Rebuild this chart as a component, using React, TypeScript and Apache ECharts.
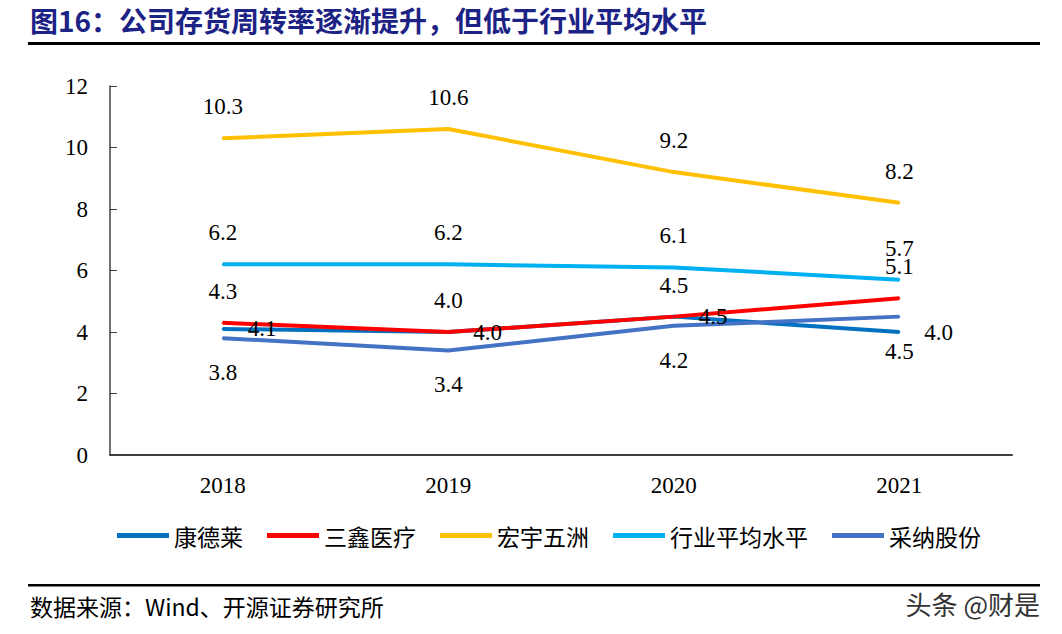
import React, { useEffect, useRef } from "react";
import * as echarts from "echarts";

const years = ["2018", "2019", "2020", "2021"];
const kangdelai = [4.1, 4.0, 4.5, 4.0];
const sanxin = [4.3, 4.0, 4.5, 5.1];
const hongyu = [10.3, 10.6, 9.2, 8.2];
const industry = [6.2, 6.2, 6.1, 5.7];
const caina = [3.8, 3.4, 4.2, 4.5];
const yTicks = [0, 2, 4, 6, 8, 10, 12];

const SERIF = "'Liberation Serif', 'Times New Roman', serif";
const CJK = "'Noto Sans CJK SC', sans-serif";

export default function App() {
  const ref = useRef<HTMLDivElement>(null);
  useEffect(() => {
    if (!ref.current) return;
    document.body.style.margin = "0";
    const chart = echarts.init(ref.current, null, { renderer: "svg" });
    const labelBase = {
      show: true,
      color: "#000",
      fontFamily: SERIF,
      fontSize: 23,
      formatter: (p: any) => Number(p.value).toFixed(1),
    };
    const mk = (name: string, data: number[], color: string, pos: string, dist: number) => ({
      name,
      type: "line",
      data,
      symbol: "circle",
      symbolSize: 2,
      showSymbol: true,
      lineStyle: { color, width: 4 },
      itemStyle: { color },
      label: { ...labelBase, position: pos, distance: dist },
      emphasis: { disabled: true },
    });
    chart.setOption({
      animation: false,
      grid: { left: 110, right: 50, top: 86, bottom: 179, containLabel: false },
      legend: {
        left: 112,
        top: 519,
        itemWidth: 52,
        itemHeight: 5,
        itemGap: 24,
        icon: "rect",
        textStyle: { fontFamily: CJK, fontSize: 23, color: "#000" },
        data: ["康德莱", "三鑫医疗", "宏宇五洲", "行业平均水平", "采纳股份"],
      },
      xAxis: {
        type: "category",
        data: years,
        boundaryGap: true,
        axisLine: { lineStyle: { color: "#404040", width: 2 } },
        axisTick: { inside: true, length: 7, lineStyle: { color: "#404040" } },
        axisLabel: { fontFamily: SERIF, fontSize: 23, color: "#000", margin: 19 },
      },
      yAxis: {
        type: "value",
        min: yTicks[0],
        max: yTicks[yTicks.length - 1],
        interval: 2,
        splitLine: { show: false },
        axisLine: { show: true, lineStyle: { color: "#404040", width: 1.5 } },
        axisTick: { show: true, inside: true, length: 7, lineStyle: { color: "#404040" } },
        axisLabel: { fontFamily: SERIF, fontSize: 23, color: "#000", margin: 22 },
      },
      series: [
        mk("康德莱", kangdelai, "#0070C0", "right", 24),
        mk("三鑫医疗", sanxin, "#FF0000", "top", 19),
        mk("宏宇五洲", hongyu, "#FFC000", "top", 19),
        mk("行业平均水平", industry, "#00B0F0", "top", 19),
        mk("采纳股份", caina, "#4472C4", "bottom", 22),
      ],
      graphic: [
        {
          type: "text",
          left: 30,
          top: 6,
          style: {
            text: "图16：公司存货周转率逐渐提升，但低于行业平均水平",
            fontFamily: CJK,
            fontWeight: "bold",
            fontSize: 28,
            fill: "#1C2385",
          },
        },
        {
          type: "rect",
          shape: { x: 28, y: 42, width: 1012, height: 3 },
          style: { fill: "#000" },
        },
        {
          type: "rect",
          shape: { x: 28, y: 584, width: 1012, height: 2.5 },
          style: { fill: "#000" },
        },
        {
          type: "text",
          left: 30,
          top: 594,
          style: {
            text: "数据来源：Wind、开源证券研究所",
            fontFamily: CJK,
            fontSize: 23,
            fill: "#000",
          },
        },
        {
          type: "text",
          right: 22,
          top: 590,
          style: {
            text: "头条 @财是",
            fontFamily: CJK,
            fontSize: 26,
            fill: "#333",
          },
        },
      ],
    });
    return () => chart.dispose();
  }, []);
  return (
    <div
      ref={ref}
      style={{ position: "fixed", left: 0, top: 0, width: 1062, height: 634, background: "#fff" }}
    />
  );
}
